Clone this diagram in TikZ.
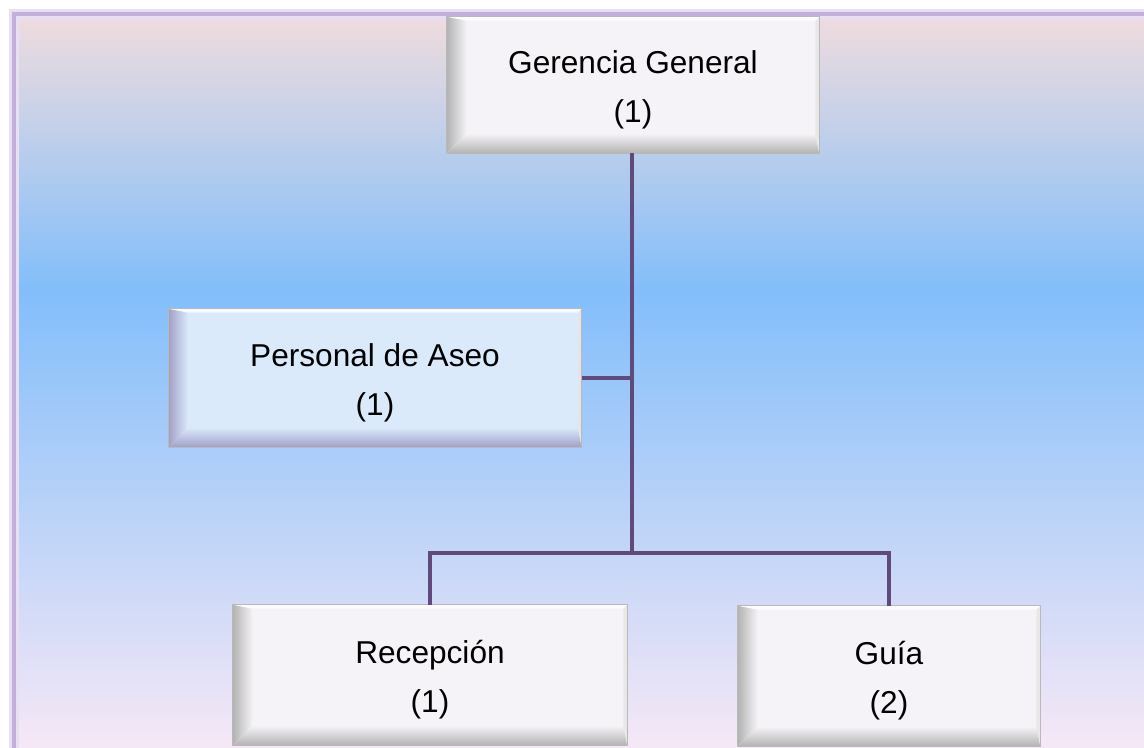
\documentclass[tikz,border=0pt]{standalone}
\usepackage{fontspec}
\setmainfont{Liberation Sans}
\usetikzlibrary{calc}

\definecolor{bgtop}{RGB}{239,220,222}
\definecolor{bgmid}{RGB}{130,190,250}
\definecolor{bgbot}{RGB}{246,232,246}
\definecolor{framecol}{RGB}{196,174,222}
\definecolor{linecol}{RGB}{96,74,123}
\definecolor{boxwhite}{RGB}{245,243,247}
\definecolor{boxblue}{RGB}{219,234,251}

% bevel of a box: node name, outer shade, inner shade
\newcommand{\bevel}[3]{
  \shade[left color=#2, right color=#3]
    (#1.north west) -- (#1.south west) -- ($(#1.south west)+(0.4cm,0.4cm)$) -- ($(#1.north west)+(0.4cm,-0.08cm)$) -- cycle;
  \shade[bottom color=#2, top color=#3]
    (#1.south west) -- (#1.south east) -- ($(#1.south east)+(-0.08cm,0.4cm)$) -- ($(#1.south west)+(0.4cm,0.4cm)$) -- cycle;
  \fill[#3!60!gray!40]
    (#1.south east) -- (#1.north east) -- ($(#1.north east)+(-0.08cm,-0.08cm)$) -- ($(#1.south east)+(-0.08cm,0.4cm)$) -- cycle;
  \fill[white!70!#3]
    (#1.north west) -- (#1.north east) -- ($(#1.north east)+(-0.08cm,-0.08cm)$) -- ($(#1.north west)+(0.4cm,-0.08cm)$) -- cycle;
  \draw[gray!55, line width=0.6pt] (#1.north west) rectangle (#1.south east);
}

\begin{document}
\begin{tikzpicture}[x=0.02cm, y=-0.02cm,
  box/.style={rectangle, align=center, inner sep=0pt,
    font=\fontsize{18}{28}\selectfont},
  conn/.style={linecol, line width=0.08cm}]
\useasboundingbox (0,0) rectangle (1144,748);
\fill[white] (0,0) rectangle (1144,748);

% background
\shade[top color=bgtop, bottom color=bgmid] (16,16) rectangle (1144,290);
\shade[top color=bgmid, bottom color=bgbot] (16,290) rectangle (1144,748);
\draw[framecol!40, line width=0.2cm] (14,760) -- (14,14) -- (1160,14);
\draw[framecol, line width=0.09cm] (14,760) -- (14,14) -- (1160,14);

% boxes
\node[box, fill=boxwhite, minimum width=7.44cm, minimum height=2.72cm] (ger) at (633,85) {};
\node[box, fill=boxblue, minimum width=8.26cm, minimum height=2.76cm] (per) at (375,378) {};
\node[box, fill=boxwhite, minimum width=7.88cm, minimum height=2.8cm] (rec) at (430,675) {};
\node[box, fill=boxwhite, minimum width=6.04cm, minimum height=2.8cm] (gui) at (889,676) {};
\bevel{ger}{gray!60}{boxwhite}
\bevel{per}{blue!25!gray!60}{boxblue}
\bevel{rec}{gray!60}{boxwhite}
\bevel{gui}{gray!60}{boxwhite}
\node[box] at ($(ger)+(0,5)$) {Gerencia General\\(1)};
\node[box] at ($(per)+(0,5)$) {Personal de Aseo\\(1)};
\node[box] at ($(rec)+(0,5)$) {Recepción\\(1)};
\node[box] at ($(gui)+(0,5)$) {Guía\\(2)};

% connectors
\coordinate (hub) at (632,553);
\draw[conn] (ger.south -| hub) -- (hub);
\draw[conn] (per.east) -- (per.east -| hub);
\draw[conn] (rec.north) |- (hub) -| (gui.north);
\end{tikzpicture}
\end{document}
